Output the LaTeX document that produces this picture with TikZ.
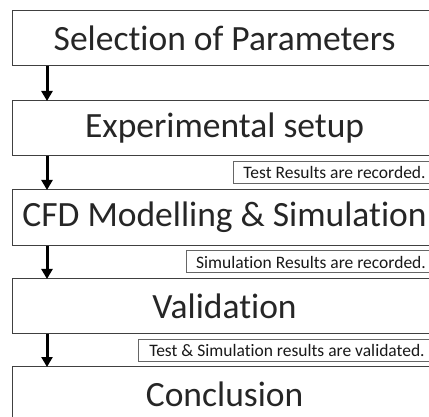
\documentclass[tikz,border=0pt]{standalone}
\usepackage{fontspec}
\setmainfont{Carlito}[Ligatures=NoCommon]
\usetikzlibrary{calc,arrows.meta}
\begin{document}
\begin{tikzpicture}[x=1pt,y=-1pt,
  stage/.style={draw=black!75,line width=1.2pt,fill=white,anchor=north west,
    minimum width=424pt,minimum height=55pt,inner sep=0pt,
    font=\fontsize{35.5}{40}\selectfont,text=black!85},
  note/.style={draw=black!60,line width=1pt,fill=white,anchor=north west,
    minimum height=22pt,inner sep=0pt,
    font=\fontsize{17.5}{20}\selectfont,text=black!90},
  flow/.style={line width=3pt,-{Triangle[length=10pt,width=11pt]},shorten >=-1pt}]
\useasboundingbox (0,0) rectangle (429,417);
\clip (0,0) rectangle (429,417);
% process steps
\node[stage] (b1) at (12,10)  {Selection of Parameters};
\node[stage] (b2) at (12,100) {Experimental setup};
\node[stage,minimum height=56pt] (b3) at (12,189) {CFD Modelling \& Simulation};
\node[stage] (b4) at (12,278) {Validation};
\node[stage] (b5) at (12,366) {Conclusion};
% remarks between steps
\node[note,minimum width=202pt] (n1) at (233,161) {Test Results are recorded.};
\node[note,minimum width=249pt] (n2) at (186,250.5) {Simulation Results are recorded.};
\node[note,minimum width=297pt] (n3) at (138,338.5) {Test \& Simulation results are validated.};
% arrows along the left side
\foreach \a/\b in {b1/b2,b2/b3,b3/b4,b4/b5}
  \draw[flow] ($(\a.south west)+(35,0)$) -- ($(\b.north west)+(35,0)$);
\end{tikzpicture}
\end{document}
